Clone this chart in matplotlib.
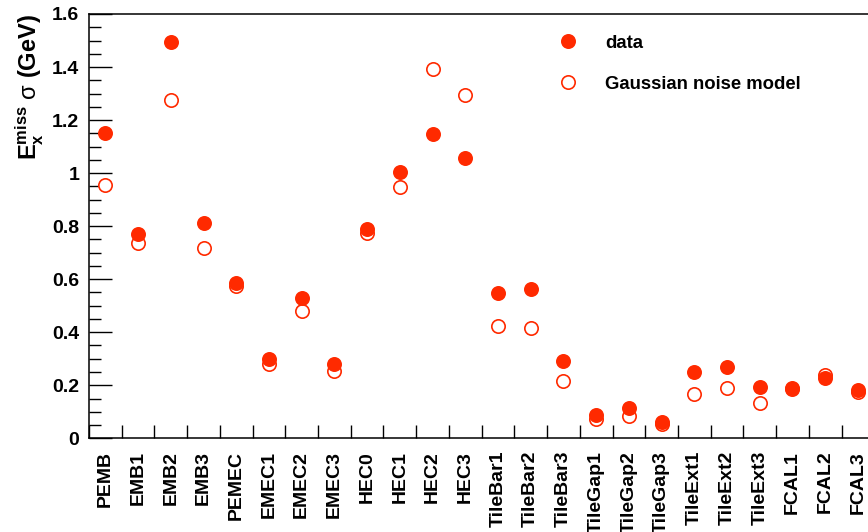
import numpy as np
import matplotlib
matplotlib.use("Agg")
import matplotlib.pyplot as plt
from matplotlib.ticker import FixedLocator, MultipleLocator, FuncFormatter

# ------------------------------------------------------------------ #
#   Data
# ------------------------------------------------------------------ #
layers = [
    "PEMB", "EMB1", "EMB2", "EMB3", "PEMEC", "EMEC1", "EMEC2", "EMEC3",
    "HEC0", "HEC1", "HEC2", "HEC3", "TileBar1", "TileBar2", "TileBar3",
    "TileGap1", "TileGap2", "TileGap3", "TileExt1", "TileExt2", "TileExt3",
    "FCAL1", "FCAL2", "FCAL3",
]
sigma_data = [
    1.152, 0.771, 1.495, 0.812, 0.586, 0.299, 0.529, 0.281,
    0.790, 1.004, 1.149, 1.058, 0.547, 0.563, 0.290,
    0.088, 0.113, 0.060, 0.250, 0.269, 0.195,
    0.189, 0.228, 0.182,
]
sigma_noise = [
    0.956, 0.737, 1.277, 0.718, 0.575, 0.281, 0.480, 0.254,
    0.775, 0.949, 1.391, 1.293, 0.423, 0.417, 0.217,
    0.073, 0.084, 0.055, 0.167, 0.189, 0.134,
    0.187, 0.237, 0.173,
]

RED = "#ff2a00"

plt.rcParams["font.family"] = ["Liberation Sans", "DejaVu Sans"]
plt.rcParams["font.weight"] = "bold"
plt.rcParams["mathtext.fontset"] = "custom"
plt.rcParams["mathtext.rm"] = "Liberation Sans:weight=normal"
plt.rcParams["mathtext.it"] = "Liberation Sans:weight=normal"   # upright sigma, as in ROOT
plt.rcParams["mathtext.bf"] = "Liberation Sans:bold"

W, H = 868, 532
fig = plt.figure(figsize=(W / 100, H / 100), dpi=100)

# axes frame runs past the right edge of the picture, as in the reference
left, bottom, top = 89, 93.7, 518
bin_w = 32.72
ax = fig.add_axes([left / W, bottom / H, len(layers) * bin_w / W, (top - bottom) / H])

x = np.arange(len(layers))
ax.plot(x, sigma_data, "o", color=RED, markersize=10.8, markeredgewidth=0,
        label="data", zorder=3)
ax.plot(x, sigma_noise, "o", markerfacecolor="white", markeredgecolor=RED,
        markersize=9.6, markeredgewidth=1.2, label="Gaussian noise model", zorder=2)

ax.set_xlim(-0.5, len(layers) - 0.5)
ax.set_ylim(0, 1.6)

# x axis: labels at bin centres, ticks at bin edges
ax.set_xticks(x)
ax.set_xticklabels(layers, rotation=90, fontsize=14, fontweight="bold")
ax.xaxis.set_minor_locator(FixedLocator(np.arange(len(layers) + 1) - 0.5))
ax.tick_params(axis="x", which="major", length=0, pad=9)
ax.tick_params(axis="x", which="minor", direction="in", length=9.4, width=1.0)

# y axis
ax.yaxis.set_major_locator(MultipleLocator(0.2))
ax.yaxis.set_minor_locator(MultipleLocator(0.05))
ax.yaxis.set_major_formatter(FuncFormatter(lambda v, _: f"{v:g}"))
ax.tick_params(axis="y", which="major", direction="in", length=16.5, width=1.0,
               labelsize=14, pad=7)
ax.tick_params(axis="y", which="minor", direction="in", length=8.6, width=1.0)
for lab in ax.get_yticklabels():
    lab.set_fontweight("bold")

for sp in ax.spines.values():
    sp.set_linewidth(1.1)

ax.set_ylabel(r"$\mathbf{E}_{\mathbf{x}}^{\mathbf{miss}}\ \sigma\ \mathbf{(GeV)}$",
              fontsize=17, loc="top", labelpad=4)

ax.legend(loc="upper left", bbox_to_anchor=(549.5 / W, 497.5 / H),
          bbox_transform=fig.transFigure, frameon=False, borderpad=0,
          borderaxespad=0, handlelength=2.0, handletextpad=1.0,
          labelspacing=1.32, prop={"size": 13.3, "weight": "bold"})

fig.savefig("out.png", dpi=100)
